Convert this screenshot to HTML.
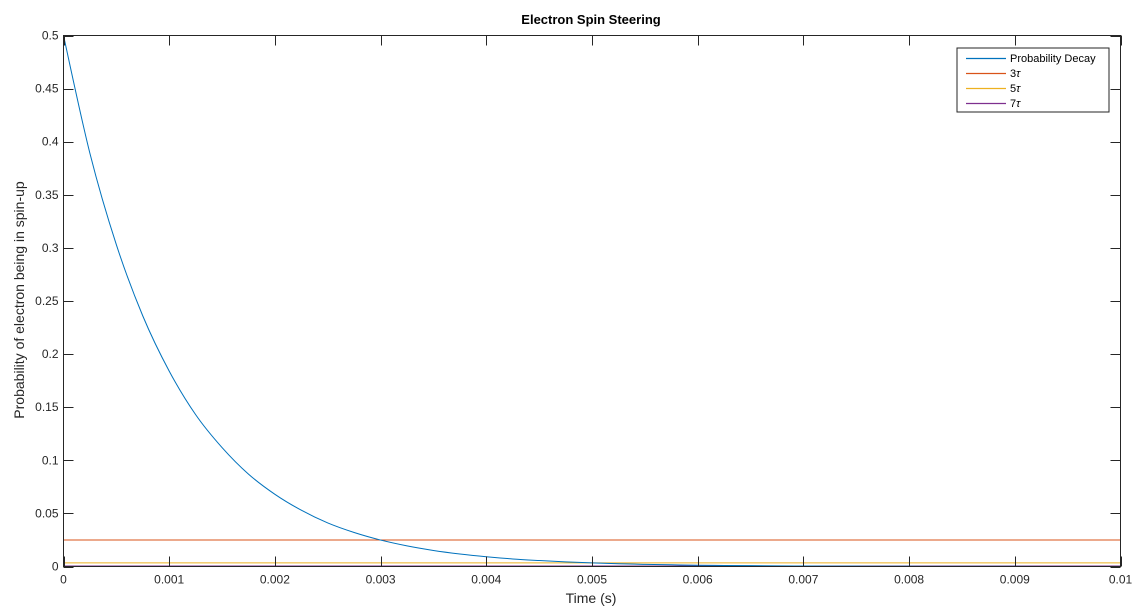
<!DOCTYPE html>
<html><head><meta charset="utf-8"><style>
body{margin:0;background:#fff;}
svg{display:block;font-family:"Liberation Sans",Arial,sans-serif;}
</style></head><body>
<svg id="chart" width="1141" height="608" xmlns="http://www.w3.org/2000/svg">
<rect x="0" y="0" width="1141" height="608" fill="#fff"/>
<g id="plot"></g>
<g id="axes"></g>
<text x="591" y="24" text-anchor="middle" font-size="13" font-weight="bold" fill="#000">Electron Spin Steering</text>
<text x="591" y="603" text-anchor="middle" font-size="14" fill="#262626">Time (s)</text>
<text transform="translate(24,300) rotate(-90)" text-anchor="middle" font-size="14" fill="#262626">Probability of electron being in spin-up</text>
<g>
<rect x="957" y="48" width="152" height="64" fill="#fff" stroke="#262626" stroke-width="1"/>
<line x1="966" y1="58.5" x2="1006" y2="58.5" stroke="#0072bd" stroke-width="1.2"/>
<text x="1010" y="62" font-size="11" fill="#000">Probability Decay</text>
<line x1="966" y1="73.5" x2="1006" y2="73.5" stroke="#d95319" stroke-width="1.2"/>
<text x="1010" y="77" font-size="11" fill="#000">3<tspan font-style="italic">τ</tspan></text>
<line x1="966" y1="88.5" x2="1006" y2="88.5" stroke="#edb120" stroke-width="1.2"/>
<text x="1010" y="92" font-size="11" fill="#000">5<tspan font-style="italic">τ</tspan></text>
<line x1="966" y1="103.5" x2="1006" y2="103.5" stroke="#7e2f8e" stroke-width="1.2"/>
<text x="1010" y="107" font-size="11" fill="#000">7<tspan font-style="italic">τ</tspan></text>
</g>
</svg>
<script>
const timeStep = 0.00025;
const decayValues = [0.5,0.389,0.303,0.236,0.184,0.143,0.112,0.087,0.068,0.053,0.041,0.032,0.0249,0.0194,0.0151,0.0118,0.0092,0.0071,0.0056,0.0043,0.0034,0.0026,0.0020,0.0016,0.0012,0.0010,0.0008,0.0006,0.0005,0.0004,0.0003,0.0002,0.0002,0.0001,0.0001,0.0001,0.0001,0,0,0,0];
const thresholdNames = ["3tau","5tau","7tau"];
const thresholdValues = [0.0249,0.00337,0.000456];
const thresholdColors = ["#d95319","#edb120","#7e2f8e"];
const xTicks = [0,0.001,0.002,0.003,0.004,0.005,0.006,0.007,0.008,0.009,0.01];
const xTickLabels = ["0","0.001","0.002","0.003","0.004","0.005","0.006","0.007","0.008","0.009","0.01"];
const yTicks = [0,0.05,0.1,0.15,0.2,0.25,0.3,0.35,0.4,0.45,0.5];
const yTickLabels = ["0","0.05","0.1","0.15","0.2","0.25","0.3","0.35","0.4","0.45","0.5"];

const L=63.5,R=1120.5,T=35.5,B=566.5;
const xMin=0,xMax=0.01,yMin=0,yMax=0.5;
const sx=v=>L+(v-xMin)/(xMax-xMin)*(R-L);
const sy=v=>B-(v-yMin)/(yMax-yMin)*(B-T);
const NS="http://www.w3.org/2000/svg";
const plot=document.getElementById('plot'), axes=document.getElementById('axes');
function mk(tag,attrs,parent){const e=document.createElementNS(NS,tag);for(const k in attrs)e.setAttribute(k,attrs[k]);parent.appendChild(e);return e;}

thresholdValues.forEach((v,i)=>{
  const ln=mk('line',{x1:sx(xMin),x2:sx(xMax),y1:sy(v),y2:sy(v),stroke:thresholdColors[i],'stroke-width':1},plot);
  
  
});

const pts=decayValues.map((v,i)=>[sx(i*timeStep),sy(v)]);
let d='M'+pts[0][0].toFixed(2)+','+pts[0][1].toFixed(2);
for(let i=0;i<pts.length-1;i++){
  const p0=pts[Math.max(0,i-1)],p1=pts[i],p2=pts[i+1],p3=pts[Math.min(pts.length-1,i+2)];
  const c1=[p1[0]+(p2[0]-p0[0])/6,p1[1]+(p2[1]-p0[1])/6];
  const c2=[p2[0]-(p3[0]-p1[0])/6,p2[1]-(p3[1]-p1[1])/6];
  d+='C'+c1[0].toFixed(2)+','+c1[1].toFixed(2)+' '+c2[0].toFixed(2)+','+c2[1].toFixed(2)+' '+p2[0].toFixed(2)+','+p2[1].toFixed(2);
}
const curve=mk('path',{d:d,fill:'none',stroke:'#0072bd','stroke-width':1},plot);



const box=mk('rect',{x:L,y:T,width:R-L,height:B-T,fill:'none',stroke:'#262626','stroke-width':1},axes);



xTicks.forEach((v,i)=>{
  const x=Math.round(sx(v))+0.5;
  mk('line',{x1:x,x2:x,y1:B,y2:B-10,stroke:'#262626'},axes);
  mk('line',{x1:x,x2:x,y1:T,y2:T+10,stroke:'#262626'},axes);
  const t=mk('text',{x:sx(v),y:B+17,'text-anchor':'middle','font-size':12,fill:'#262626'},axes);
  t.textContent=xTickLabels[i];
  
  
});
yTicks.forEach((v,i)=>{
  const y=Math.round(sy(v))+0.5;
  mk('line',{x1:L,x2:L+10,y1:y,y2:y,stroke:'#262626'},axes);
  mk('line',{x1:R,x2:R-10,y1:y,y2:y,stroke:'#262626'},axes);
  const t=mk('text',{x:L-5,y:sy(v)+4,'text-anchor':'end','font-size':12,fill:'#262626'},axes);
  t.textContent=yTickLabels[i];
  
  
});
</script>
</body></html>
